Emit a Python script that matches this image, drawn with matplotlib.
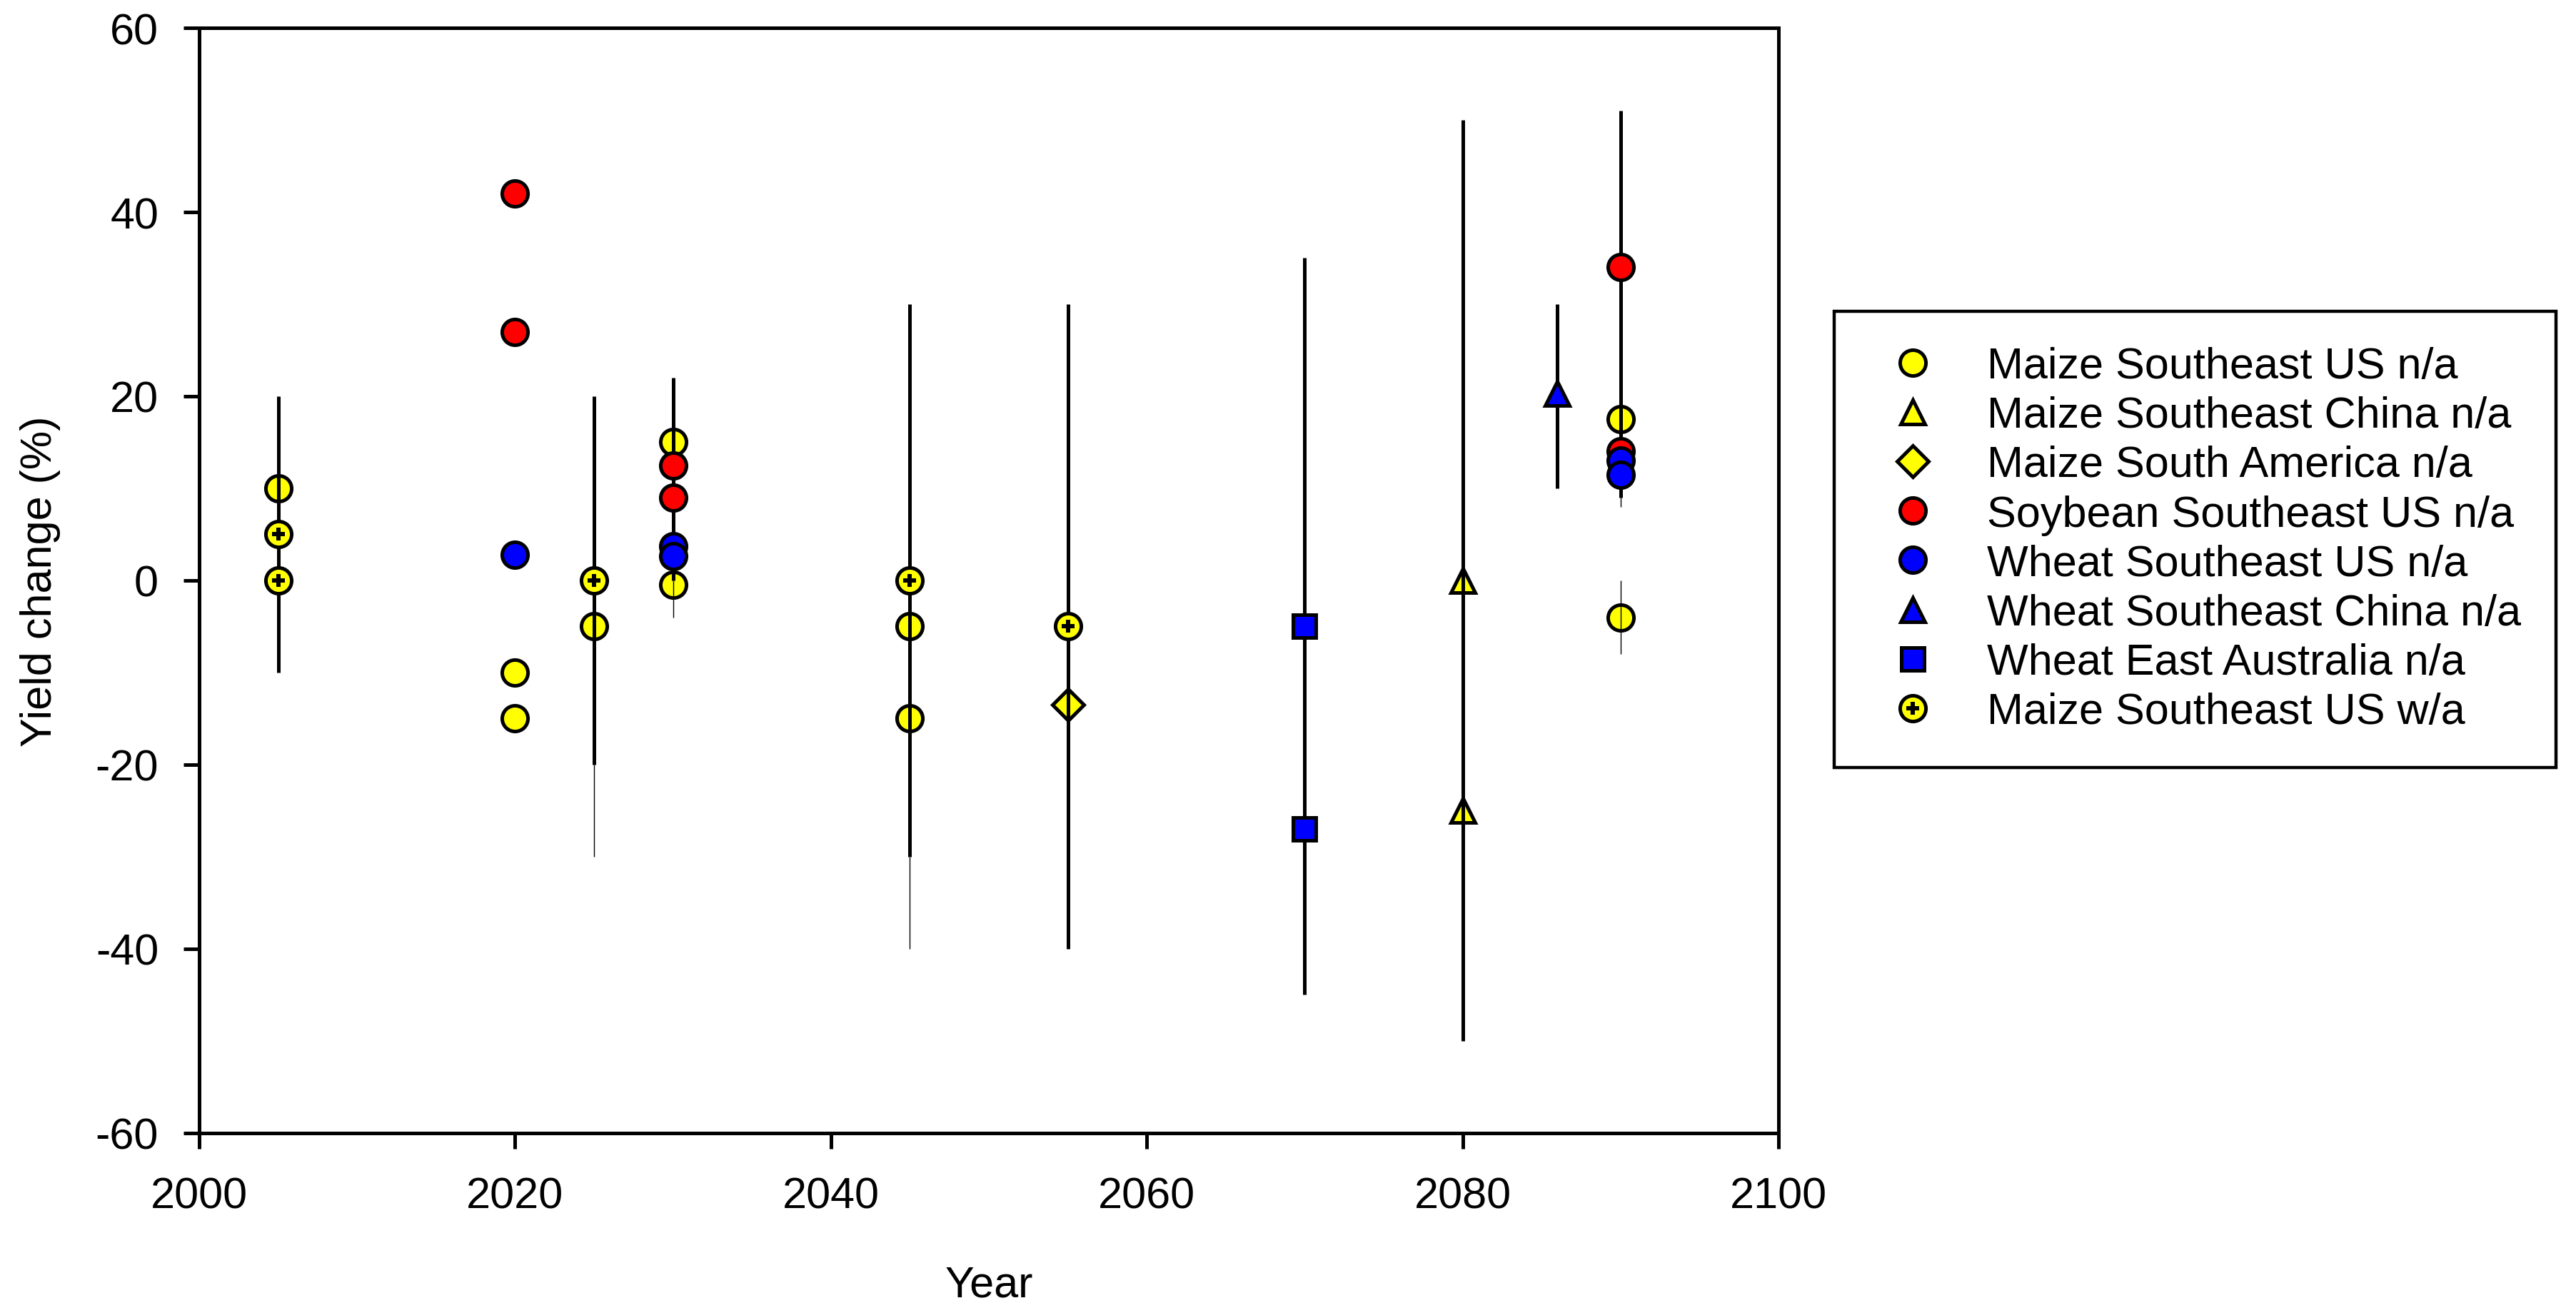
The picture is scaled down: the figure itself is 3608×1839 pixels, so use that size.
import matplotlib
matplotlib.use('Agg')
import matplotlib.pyplot as plt

plt.rcParams['font.family'] = ['Liberation Sans', 'DejaVu Sans']
plt.rcParams['axes.unicode_minus'] = False

# points (year, yield change %)
maize_us_na_year = [2005, 2020, 2020, 2025, 2030, 2030, 2045, 2045, 2090, 2090]
maize_us_na_val = [10, -10, -15, -5, 15, -0.5, -5, -15, 17.5, -4]

maize_china_na_year = [2080, 2080]
maize_china_na_val = [0, -25]

maize_sa_na_year = [2055]
maize_sa_na_val = [-13.5]

soy_us_na_year = [2020, 2020, 2030, 2030, 2090, 2090]
soy_us_na_val = [42, 27, 12.5, 9, 34, 14]

wheat_us_na_year = [2020, 2030, 2030, 2090, 2090]
wheat_us_na_val = [2.8, 3.7, 2.6, 13, 11.5]

wheat_china_na_year = [2086]
wheat_china_na_val = [20.3]

wheat_aus_na_year = [2070, 2070]
wheat_aus_na_val = [-5, -27]

maize_us_wa_year = [2005, 2005, 2025, 2045, 2055]
maize_us_wa_val = [5, 0, 0, 0, -5]

# ranges (thick) and extra ranges (thin)
bar_year = [2005, 2025, 2030, 2045, 2055, 2070, 2080, 2086, 2090]
bar_low = [-10, -20, 0, -30, -40, -45, -50, 10, 9]
bar_high = [20, 20, 22, 30, 30, 35, 50, 30, 51]

thin_year = [2025, 2030, 2045, 2090, 2090]
thin_low = [-30, -4, -40, 8, -8]
thin_high = [-20, 0, -30, 9, 0]

labels = ['Maize Southeast US n/a', 'Maize Southeast China n/a', 'Maize South America n/a',
          'Soybean Southeast US n/a', 'Wheat Southeast US n/a', 'Wheat Southeast China n/a',
          'Wheat East Australia n/a', 'Maize Southeast US w/a']

fig = plt.figure(figsize=(18.04, 9.2), dpi=200)
ax = fig.add_axes([0.07733, 0.13696, 0.61308, 0.84130])

mew = 1.8
ms = 13

h1, = ax.plot(maize_us_na_year, maize_us_na_val, 'o', ms=ms, mfc='#ffff00', mec='black', mew=mew, zorder=2)
h2, = ax.plot(maize_china_na_year, maize_china_na_val, '^', ms=12.2, mfc='#ffff00', mec='black', mew=mew, zorder=2)
h3, = ax.plot(maize_sa_na_year, maize_sa_na_val, 'D', ms=11, mfc='#ffff00', mec='black', mew=mew, zorder=2)

ax.vlines(bar_year, bar_low, bar_high, colors='black', lw=1.8, zorder=2)
ax.vlines(thin_year, thin_low, thin_high, colors='black', lw=0.5, zorder=2)

h4, = ax.plot(soy_us_na_year, soy_us_na_val, 'o', ms=ms, mfc='#ff0000', mec='black', mew=mew, zorder=2)
h5, = ax.plot(wheat_us_na_year, wheat_us_na_val, 'o', ms=ms, mfc='#0000ff', mec='black', mew=mew, zorder=2)
h6, = ax.plot(wheat_china_na_year, wheat_china_na_val, '^', ms=12.2, mfc='#0000ff', mec='black', mew=mew, zorder=2)
h7, = ax.plot(wheat_aus_na_year, wheat_aus_na_val, 's', ms=11.5, mfc='#0000ff', mec='black', mew=mew, zorder=2)
h8a, = ax.plot(maize_us_wa_year, maize_us_wa_val, 'o', ms=ms, mfc='#ffff00', mec='black', mew=mew, zorder=2)
h8b, = ax.plot(maize_us_wa_year, maize_us_wa_val, 'P', ms=6.5, mfc='black', mec='black', mew=0, zorder=2)

ax.set_xlim(2000, 2100)
ax.set_ylim(-60, 60)
ax.set_xticks(range(2000, 2101, 20))
ax.set_yticks(range(-60, 61, 20))

for s in ax.spines.values():
    s.set_linewidth(1.8)
ax.tick_params(axis='both', direction='out', length=7.9, width=1.8, labelsize=22,
               top=False, right=False)
ax.tick_params(axis='x', pad=14)
ax.tick_params(axis='y', pad=12.6)

ax.set_xlabel('Year', fontsize=22)
ax.set_ylabel('Yield change (%)', fontsize=22)
ax.xaxis.set_label_coords(0.5, -0.1193)
ax.yaxis.set_label_coords(-0.0877, 0.5)

leg = fig.legend([h1, h2, h3, h4, h5, h6, h7, (h8a, h8b)], labels,
                 loc='upper left', bbox_to_anchor=(0.71203, 0.76250),
                 fontsize=22, borderpad=0.8, handlelength=2, handletextpad=0.7,
                 labelspacing=0.2, numpoints=1, fancybox=False, framealpha=1,
                 edgecolor='black', borderaxespad=0)
leg.get_frame().set_linewidth(1.6)

fig.savefig('out.png', dpi=200)
